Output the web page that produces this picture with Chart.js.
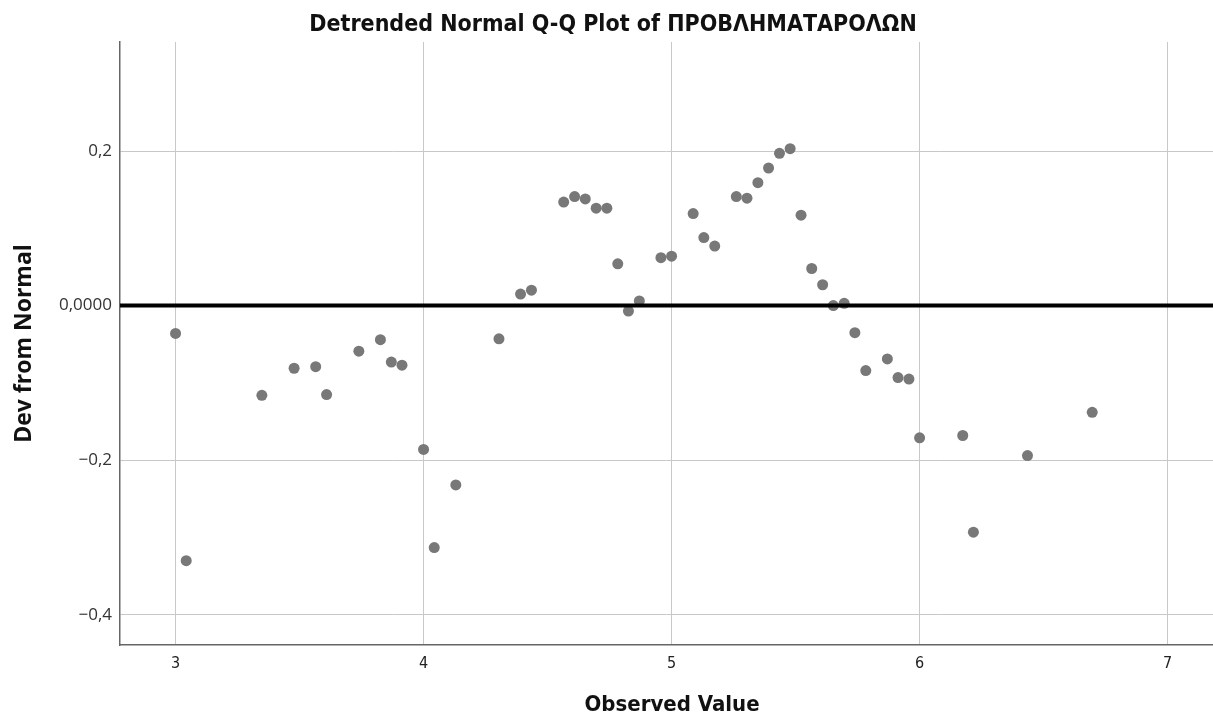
<!DOCTYPE html>
<html>
<head>
<meta charset="utf-8">
<script src="https://cdn.jsdelivr.net/npm/chart.js@4/dist/chart.umd.min.js"></script>
<style>
  html, body { margin: 0; padding: 0; background: #fff; }
  #wrap { width: 1213px; height: 719px; }
</style>
</head>
<body>
<div id="wrap"><canvas id="chart" width="1213" height="719"></canvas></div>
<script>
const observed = [
  3.000, 3.043, 3.348, 3.478, 3.565, 3.609, 3.739, 3.826, 3.870, 3.913,
  4.000, 4.043, 4.130, 4.304, 4.391, 4.435, 4.565, 4.609, 4.652, 4.696,
  4.739, 4.783, 4.826, 4.870, 4.957, 5.000, 5.087, 5.130, 5.174, 5.261,
  5.304, 5.348, 5.391, 5.435, 5.478, 5.522, 5.565, 5.609, 5.652, 5.696,
  5.739, 5.783, 5.870, 5.913, 5.957, 6.000, 6.174, 6.217, 6.435, 6.696
];
const devFromNormal = [
  -0.036, -0.330, -0.116, -0.081, -0.079, -0.115, -0.059, -0.044, -0.073, -0.077,
  -0.186, -0.313, -0.232, -0.043, 0.015, 0.020, 0.134, 0.141, 0.138, 0.126,
  0.126, 0.054, -0.007, 0.006, 0.062, 0.064, 0.119, 0.088, 0.077, 0.141,
  0.139, 0.159, 0.178, 0.197, 0.203, 0.117, 0.048, 0.027, 0.000, 0.003,
  -0.035, -0.084, -0.069, -0.093, -0.095, -0.171, -0.168, -0.293, -0.194, -0.138
];
const xTicks = [3, 4, 5, 6, 7];
const yTicks = [-0.4, -0.2, 0, 0.2];
const yTickLabels = ['\u22120,4', '\u22120,2', '0,0000', '0,2'];

const titleText = 'Detrended Normal Q-Q Plot of ΠΡΟΒΛΗΜΑΤΑΡΟΛΩΝ';
const xTitle = 'Observed Value';
const condensed = '"DejaVu Sans Condensed", "DejaVu Sans", sans-serif';

const points = observed.map((x, i) => ({ x, y: devFromNormal[i] }));

// chart title and x axis title drawn by hand so they sit where SPSS puts them
const titlePlugin = {
  id: 'topTitle',
  afterDraw(chart) {
    const ctx = chart.ctx;
    ctx.save();
    ctx.fillStyle = '#111';
    ctx.textAlign = 'center';
    ctx.textBaseline = 'middle';
    ctx.font = 'bold 23px ' + condensed;
    ctx.fillText(titleText, 613, 25);
    ctx.font = 'bold 22px ' + condensed;
    ctx.fillText(xTitle, 672, 705);
    ctx.restore();
  }
};

// thick horizontal reference line at zero deviation
const zeroLine = {
  id: 'zeroLine',
  afterDatasetsDraw(chart) {
    const { ctx, chartArea, scales } = chart;
    const y = scales.y.getPixelForValue(0);
    ctx.save();
    ctx.strokeStyle = '#000';
    ctx.lineWidth = 4;
    ctx.beginPath();
    ctx.moveTo(chartArea.left, y);
    ctx.lineTo(chartArea.right, y);
    ctx.stroke();
    ctx.restore();
  }
};

new Chart(document.getElementById('chart'), {
  type: 'scatter',
  data: {
    datasets: [{
      data: points,
      pointRadius: 5.5,
      pointHoverRadius: 5.5,
      pointBackgroundColor: '#787878',
      pointBorderWidth: 0,
    }],
  },
  options: {
    responsive: false,
    animation: false,
    layout: { autoPadding: false, padding: { top: 42, right: 0, bottom: 0, left: 0 } },
    plugins: {
      legend: { display: false },
      tooltip: { enabled: false },
    },
    scales: {
      x: {
        type: 'linear',
        min: 2.776,
        max: 7.183,
        afterFit: (scale) => { scale.height = 74; },
        afterBuildTicks: (scale) => { scale.ticks = xTicks.map((v) => ({ value: v })); },
        grid: { color: '#c8c8c8', lineWidth: 1, drawTicks: false },
        border: { color: '#666', width: 1.5 },
        ticks: {
          padding: 9,
          color: '#222',
          font: { family: condensed, size: 16 },
          callback: (v) => String(v),
        },
      },
      y: {
        type: 'linear',
        min: -0.439,
        max: 0.341,
        afterFit: (scale) => { scale.width = 120; },
        afterBuildTicks: (scale) => { scale.ticks = yTicks.map((v) => ({ value: v })); },
        grid: { color: '#c8c8c8', lineWidth: 1, drawTicks: false },
        border: { color: '#666', width: 1.5 },
        ticks: {
          padding: 8,
          color: '#333',
          font: { family: '"Open Sans", sans-serif', size: 17 },
          callback: (v) => yTickLabels[yTicks.indexOf(v)] ?? '',
        },
        title: {
          display: true,
          text: 'Dev from Normal',
          color: '#111',
          padding: { top: 11, bottom: 0 },
          font: { family: '"Open Sans", sans-serif', size: 23, weight: 'bold' },
        },
      },
    },
  },
  plugins: [titlePlugin, zeroLine],
});
</script>
</body>
</html>
